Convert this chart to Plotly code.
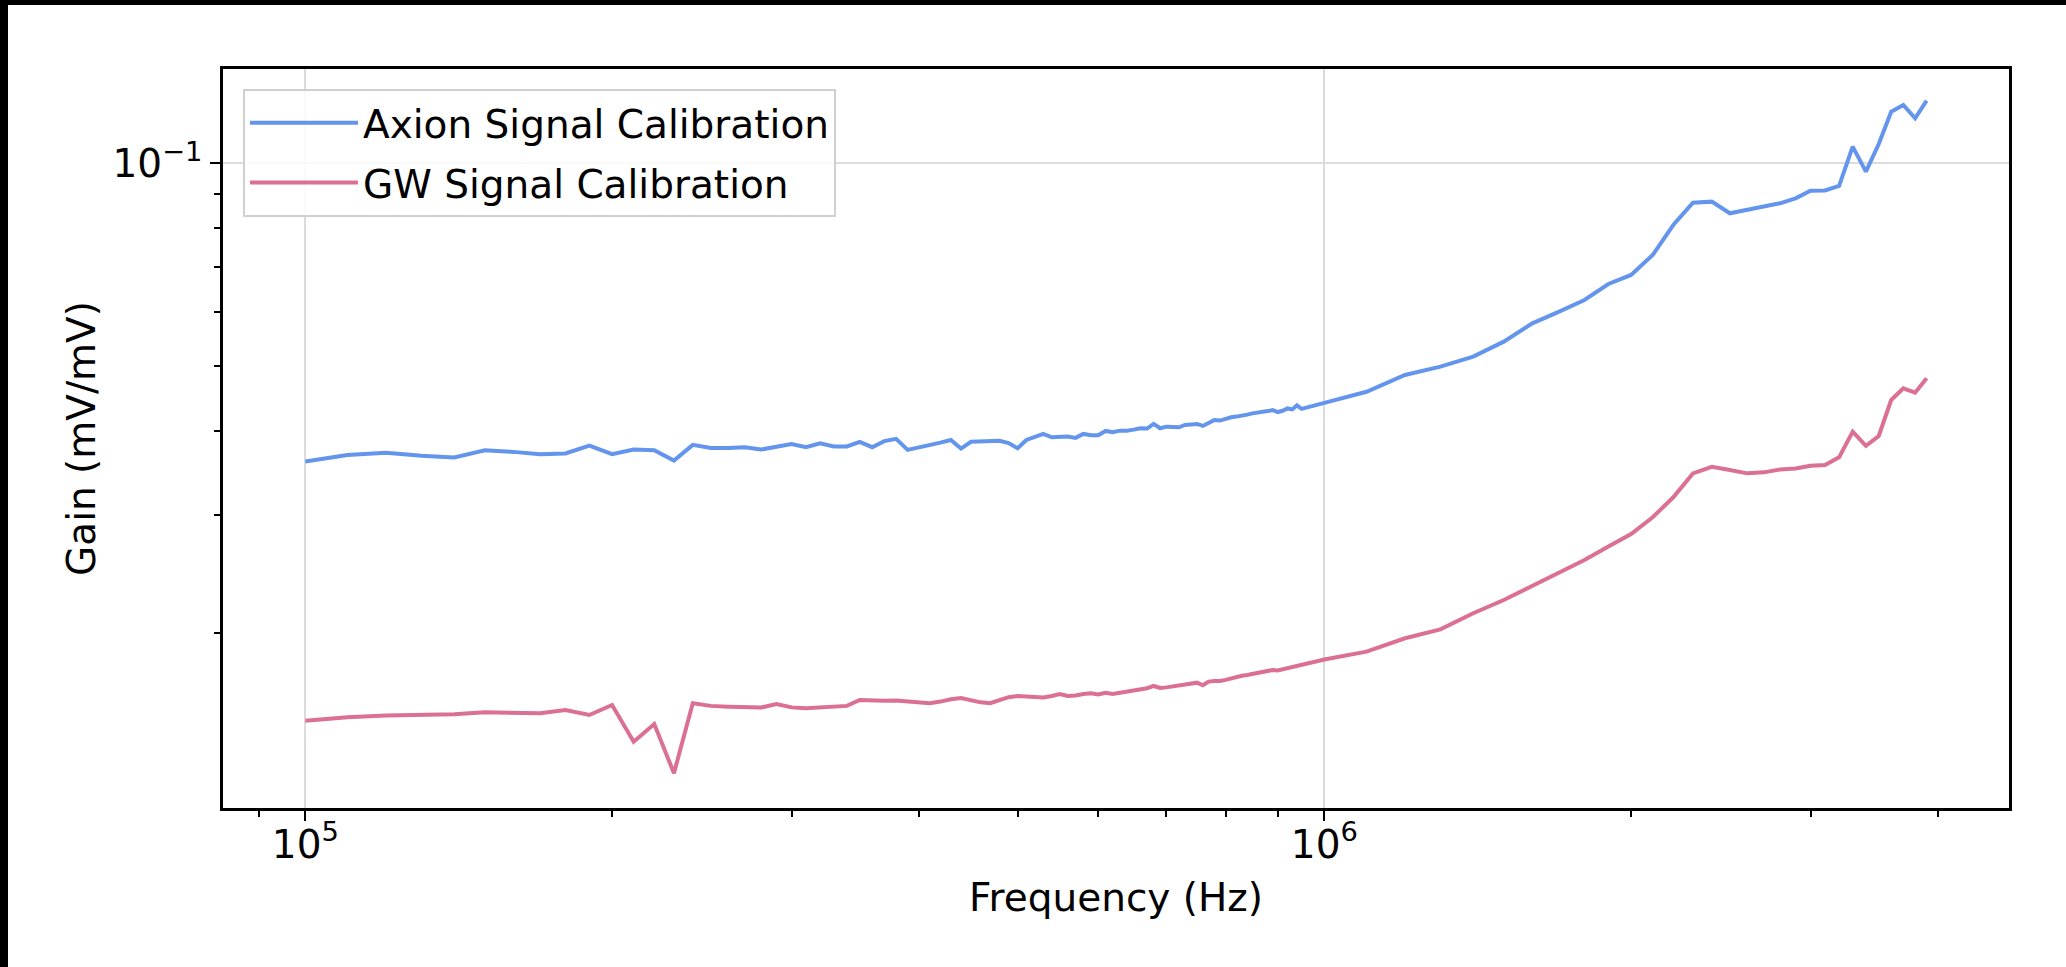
import plotly.graph_objects as go

# Frequencies in kHz
freq_khz = [100, 110, 120, 130, 140, 150, 160, 170, 180, 190,
            200, 210, 220, 230, 240, 250, 260, 270, 280, 290,
            300, 310, 320, 330, 340, 350, 360, 370, 380, 390,
            400, 410, 420, 430, 440, 450, 460, 470, 480, 490,
            500, 510, 520, 530, 540, 550, 560, 570, 580, 590,
            600, 610, 620, 630, 640, 650, 660, 670, 680, 690,
            700, 710, 720, 730, 740, 750, 760, 770, 780, 790,
            800, 810, 820, 830, 840, 850, 860, 870, 880, 890,
            900, 910, 920, 930, 940, 950, 960, 970, 980, 990,
            1000, 1100, 1200, 1300, 1400, 1500, 1600, 1700, 1800, 1900,
            2000, 2100, 2200, 2300, 2400, 2500, 2600, 2700, 2800, 2900,
            3000, 3100, 3200, 3300, 3400, 3500, 3600, 3700, 3800, 3900]

axion_gain = [0.0360, 0.0368, 0.0371, 0.0367, 0.0365, 0.0374, 0.0372, 0.0369, 0.0370, 0.0380,
              0.0369, 0.0375, 0.0374, 0.0361, 0.0381, 0.0377, 0.0377, 0.0378, 0.0375, 0.0379,
              0.0382, 0.0378, 0.0383, 0.0379, 0.0379, 0.0385, 0.0378, 0.0386, 0.0389, 0.03745,
              0.03774, 0.03809, 0.0384, 0.03875, 0.03762, 0.03851, 0.03855, 0.0386, 0.03864, 0.03834,
              0.03767, 0.03875, 0.0392, 0.03956, 0.03911, 0.03916, 0.0392, 0.03903, 0.03956, 0.03938,
              0.03938, 0.03997, 0.03979, 0.04001, 0.04001, 0.04015, 0.04034, 0.04029, 0.04094, 0.04034,
              0.04056, 0.04052, 0.04047, 0.04079, 0.04088, 0.04094, 0.04066, 0.04112, 0.0415, 0.04141,
              0.04169, 0.04189, 0.04198, 0.04207, 0.04226, 0.04245, 0.04254, 0.0426, 0.04278, 0.04293,
              0.04264, 0.04283, 0.04317, 0.04302, 0.04362, 0.04311, 0.04326, 0.04349, 0.04362, 0.04376,
              0.0440, 0.04571, 0.04842, 0.04981, 0.05156, 0.05427, 0.05779, 0.06014, 0.0626, 0.06613,
              0.0682, 0.07303, 0.08094, 0.08738, 0.08768, 0.08425, 0.08522, 0.08619, 0.08719, 0.08869,
              0.09104, 0.0911, 0.09252, 0.10585, 0.09716, 0.10684, 0.11934, 0.12212, 0.11668, 0.12393]

gw_gain = [0.01481, 0.01498, 0.01507, 0.01510, 0.01514, 0.01524, 0.01523, 0.01519, 0.01536, 0.01510,
           0.01563, 0.01378, 0.01464, 0.01237, 0.01572, 0.01558, 0.01554, 0.01553, 0.01549, 0.01568,
           0.01550, 0.01545, 0.01549, 0.01553, 0.01558, 0.01590, 0.01585, 0.01585, 0.01587, 0.01581,
           0.01579, 0.01572, 0.01581, 0.01594, 0.01600, 0.01588, 0.01577, 0.01572, 0.01590, 0.01605,
           0.01612, 0.01609, 0.01605, 0.01603, 0.01612, 0.01623, 0.01612, 0.01614, 0.01623, 0.01627,
           0.01620, 0.01630, 0.01623, 0.01630, 0.01638, 0.01645, 0.01649, 0.01655, 0.01668, 0.01657,
           0.01660, 0.01665, 0.01668, 0.01675, 0.01679, 0.01687, 0.01672, 0.01693, 0.01697, 0.01697,
           0.01703, 0.01713, 0.01721, 0.01727, 0.01732, 0.01738, 0.01741, 0.01750, 0.01754, 0.01762,
           0.01759, 0.01766, 0.01774, 0.01778, 0.01786, 0.01789, 0.01798, 0.01805, 0.01809, 0.01817,
           0.01826, 0.01876, 0.01964, 0.02025, 0.02140, 0.02239, 0.02350, 0.02454, 0.02569, 0.02689,
           0.02808, 0.02973, 0.03184, 0.03456, 0.03535, 0.03495, 0.03456, 0.03468, 0.03503, 0.03515,
           0.03548, 0.03556, 0.03651, 0.03987, 0.03797, 0.03928, 0.04444, 0.04626, 0.04556, 0.04787]

x_major = [1e5, 1e6]
x_major_text = ["10<sup>5</sup>", "10<sup>6</sup>"]
x_minor = [9e4, 2e5, 3e5, 4e5, 5e5, 6e5, 7e5, 8e5, 9e5, 2e6, 3e6, 4e6]
y_major = [0.1]
y_major_text = ["10<sup>\u22121</sup>"]
y_minor = [0.02, 0.03, 0.04, 0.05, 0.06, 0.07, 0.08, 0.09]

freq_hz = [f * 1000 for f in freq_khz]

FONT = "DejaVu Sans"
FS = 39

fig = go.Figure()
fig.add_trace(go.Scatter(x=freq_hz, y=axion_gain, mode="lines",
                         name="Axion Signal Calibration", legendgroup="a",
                         line=dict(color="#6495ED", width=4)))
fig.add_trace(go.Scatter(x=freq_hz, y=gw_gain, mode="lines",
                         name="GW Signal Calibration", legendgroup="b",
                         line=dict(color="#DB7093", width=4)))

W, H = 2066, 967
ml, mr, mt, mb = 223, 57, 69, 159
pw, ph = W - ml - mr, H - mt - mb

axis_common = dict(
    type="log", showline=True, linecolor="black", linewidth=2.5, mirror=True,
    ticks="outside", ticklen=10, tickwidth=2, tickcolor="black",
    showgrid=True, gridcolor="#dcdcdc", gridwidth=2, zeroline=False,
    tickfont=dict(family=FONT, size=FS, color="black"),
)

fig.update_xaxes(**axis_common, range=[4.9192, 6.6719], tickmode="array",
                 tickvals=x_major, ticktext=x_major_text, ticklabelstandoff=-10,
                 minor=dict(tickmode="array", tickvals=x_minor, ticks="outside",
                            ticklen=6, tickwidth=1.5, tickcolor="black", showgrid=False),
                 title=dict(text="Frequency (Hz)", font=dict(family=FONT, size=FS, color="black"),
                            standoff=19))
fig.update_yaxes(**axis_common, range=[-1.9594, -0.8597], tickmode="array",
                 tickvals=y_major, ticktext=y_major_text,
                 minor=dict(tickmode="array", tickvals=y_minor, ticks="outside",
                            ticklen=6, tickwidth=1.5, tickcolor="black", showgrid=False),
                 title=dict(text="Gain (mV/mV)", font=dict(family=FONT, size=FS, color="black"),
                            standoff=5))

# black strips at top and left edges of the picture
shapes = [
    dict(type="rect", xref="paper", yref="paper", layer="above",
         x0=-ml / pw, x1=(W - ml) / pw, y0=1 + (mt - 5) / ph, y1=1 + mt / ph,
         fillcolor="black", line=dict(width=0)),
    dict(type="rect", xref="paper", yref="paper", layer="above",
         x0=-ml / pw, x1=(8 - ml) / pw, y0=-mb / ph, y1=1 + mt / ph,
         fillcolor="black", line=dict(width=0)),
]

fig.update_layout(
    width=W, height=H,
    margin=dict(l=ml, r=mr, t=mt, b=mb, autoexpand=False),
    paper_bgcolor="white", plot_bgcolor="white",
    font=dict(family=FONT, size=FS, color="black"),
    showlegend=True,
    legend=dict(x=20 / pw, y=1 - 20 / ph, xanchor="left", yanchor="top",
                bgcolor="rgba(255,255,255,0.85)", bordercolor="#d0d0d0", borderwidth=2,
                font=dict(family=FONT, size=FS, color="black"),
                itemwidth=108, traceorder="grouped", tracegroupgap=6),
    shapes=shapes,
)

fig.write_html("out.html")
